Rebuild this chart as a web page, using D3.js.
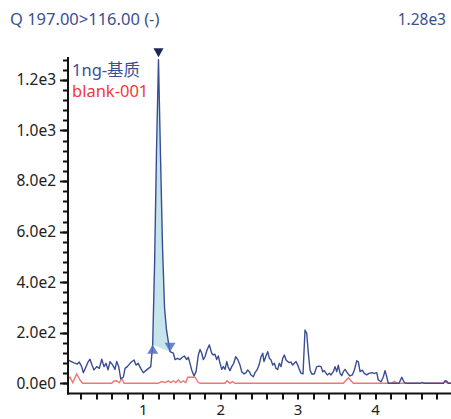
<!DOCTYPE html>
<html>
<head>
<meta charset="utf-8">
<script src="https://cdn.jsdelivr.net/npm/d3@7"></script>
<style>
body{margin:0;background:#fff;}
svg text{font-family:"Noto Sans","Noto Sans CJK SC",sans-serif;}
</style>
</head>
<body>
<div id="plot"></div>
<script>
// chromatogram: Q 197.00>116.00 (-)

var title = 'Q 197.00>116.00 (-)',
	maxLabel = '1.28e3',
	seriesNames = ['1ng-基质','blank-001'];

var yTicks = [0,200,400,600,800,1000,1200],
	yTickLabels = ['0.0e0','2.0e2','4.0e2','6.0e2','8.0e2','1.0e3','1.2e3'],
	xTicks = [1,2,3,4];

// 1ng-基质 trace
var sampleTime = [0.027,0.044,0.105,0.147,0.173,0.204,0.225,0.260,0.289,0.311,0.337,0.363,0.398,0.432,0.463,0.492,0.518,0.544,0.570,0.605,0.634,0.656,0.682,0.708,0.742,0.764,0.793,0.828,0.854,0.880,0.906,0.935,0.966,1.000,1.044,1.096,
	1.121,1.146,1.171,1.196,1.222,1.248,1.274,1.300,1.323,1.345,
	1.388,1.410,1.444,1.474,1.504,1.530,1.561,1.581,1.603,1.625,1.655,1.681,1.711,1.733,1.755,1.775,1.797,1.823,1.853,1.884,1.904,1.926,1.948,1.969,1.991,2.013,2.034,2.056,2.078,2.098,2.120,2.142,2.168,2.194,2.220,2.249,2.271,2.301,2.327,2.349,2.370,2.391,2.421,2.443,2.469,2.495,2.521,2.543,2.559,2.581,2.607,2.628,2.650,2.672,2.693,2.714,2.736,2.757,2.779,2.801,2.822,2.844,2.866,2.886,2.908,2.930,2.951,2.973,2.995,3.016,3.037,3.063,3.089,3.111,3.132,3.154,3.176,3.209,3.240,3.270,3.296,3.318,3.338,3.360,3.377,3.403,3.425,3.455,3.477,3.499,3.519,3.541,3.563,3.584,3.606,3.641,3.670,3.700,3.726,3.757,3.778,3.800,3.829,3.855,3.886,3.916,3.951,3.984,4.016,4.036,4.071,4.101,4.123,4.145,4.165,4.304,4.339,4.368,4.390,4.575,4.605,4.633,4.876,4.898,4.920,4.941,4.975];
var sampleValue = [92,90,81,76,84,66,42,66,86,95,72,53,66,59,95,66,79,53,86,72,55,86,66,18,24,59,66,79,86,92,72,79,59,42,53,66,
	152,480,930,1280,900,540,300,210,165,125,
	119,94,99,94,103,108,94,103,79,53,29,46,112,134,119,94,105,132,152,119,112,115,94,108,79,55,66,55,86,63,50,66,79,105,94,72,46,37,42,53,46,33,26,42,53,72,105,119,86,105,125,99,92,72,79,59,55,79,66,99,112,92,86,82,84,72,79,86,72,55,40,37,211,198,119,53,37,37,66,68,66,46,50,40,33,40,33,46,66,46,72,40,30,46,55,39,29,33,52,89,85,46,52,39,33,39,42,39,42,13,6,26,50,26,0,0,24,5,0,0,3,0,0,10,8,0,0];

// blank-001 trace
var blankTime = [0.031,0.053,0.088,0.140,0.182,0.217,0.592,0.621,0.656,0.690,0.721,0.751,1.190,1.238,1.280,1.323,1.358,1.388,1.419,1.452,1.483,1.517,1.548,1.574,1.625,1.668,1.711,1.733,2.056,2.081,2.120,2.150,2.185,3.584,3.649,3.713,4.209,4.243,4.279,4.575,4.605,4.633,4.876,4.898,4.937,4.975];
var blankValue = [18,24,3,37,13,0,0,9,10,2,20,0,0,7,3,10,3,10,3,13,3,10,3,24,24,24,3,0,0,10,0,7,0,0,22,0,0,8,0,0,3,0,0,6,0,0];

// integrated peak (first and last index in the sample trace)
var peakStart = 36, peakEnd = 45, peakApex = 39;

var W = 451, H = 419;
var svg = d3.select('#plot').append('svg')
	.attr('width',W).attr('height',H);

var x = d3.scaleLinear().domain([0.027,4.975]).range([68,451]);
var y = d3.scaleLinear().domain([0,1280]).range([383.3,59.7]);

var axisY = 393.5, axisX = 68;

svg.append('defs').append('clipPath').attr('id','clip')
	.append('rect').attr('x',axisX).attr('y',0).attr('width',W-axisX).attr('height',axisY-1);

var sample = sampleTime.map(function(t,i){return {t:t,v:sampleValue[i]};});
var blank = blankTime.map(function(t,i){return {t:t,v:blankValue[i]};});

var line = d3.line().x(function(d){return x(d.t)}).y(function(d){return y(d.v)});

var g = svg.append('g').attr('clip-path','url(#clip)');

// peak fill
var peak = sample.slice(peakStart,peakEnd+1);
g.append('path')
	.attr('d',line(peak)+'Z')
	.attr('fill','#c6e4ec')
	.attr('stroke','none');

g.append('path')
	.datum(blank)
	.attr('d',line)
	.attr('fill','none')
	.attr('stroke','#f27474')
	.attr('stroke-width',1.4);

g.append('path')
	.datum(sample)
	.attr('d',line)
	.attr('fill','none')
	.attr('stroke','#3a4d94')
	.attr('stroke-width',1.4)
	.attr('stroke-linejoin','round');

// peak markers
var s = sample[peakStart], e = sample[peakEnd], a = sample[peakApex];
svg.append('path')
	.attr('d','M0,0 L-5.5,9 L5.5,9 Z')
	.attr('transform','translate('+x(s.t)+','+y(s.v)+')')
	.attr('fill','#4f6fc4').attr('fill-opacity',0.85);
svg.append('path')
	.attr('d','M0,0 L-5.5,-9 L5.5,-9 Z')
	.attr('transform','translate('+x(e.t)+','+y(e.v)+')')
	.attr('fill','#4f6fc4').attr('fill-opacity',0.85);
svg.append('path')
	.attr('d','M0,0 L-5,-9 L5,-9 Z')
	.attr('transform','translate('+x(a.t)+','+(y(a.v)-2.5)+')')
	.attr('fill','#1f2757');

// axes
var yAxis = svg.append('g').attr('transform','translate('+axisX+',0)');
yAxis.append('line').attr('x1',0).attr('x2',0).attr('y1',57).attr('y2',axisY+1)
	.attr('stroke','#111').attr('stroke-width',2);
yAxis.selectAll('.ymin').data(d3.range(0,1281,40)).enter().append('line')
	.attr('x1',-5).attr('x2',0)
	.attr('y1',function(d){return Math.round(y(d))+0.5}).attr('y2',function(d){return Math.round(y(d))+0.5})
	.attr('stroke','#111').attr('stroke-width',2);
yAxis.selectAll('.ymaj').data(yTicks).enter().append('line')
	.attr('x1',-8).attr('x2',0)
	.attr('y1',function(d){return Math.round(y(d))+0.5}).attr('y2',function(d){return Math.round(y(d))+0.5})
	.attr('stroke','#111').attr('stroke-width',2);
yAxis.selectAll('.ylab').data(yTicks).enter().append('text')
	.attr('x',-12).attr('y',function(d){return y(d)})
	.attr('dy','0.35em')
	.attr('text-anchor','end')
	.attr('font-size','15.5px').attr('fill','#222')
	.text(function(d,i){return yTickLabels[i]});

var xAxis = svg.append('g').attr('transform','translate(0,'+axisY+')');
xAxis.append('line').attr('x1',axisX-1).attr('x2',W).attr('y1',0).attr('y2',0)
	.attr('stroke','#111').attr('stroke-width',2);
xAxis.selectAll('.xmin').data(d3.range(0.2,4.99,0.2)).enter().append('line')
	.attr('x1',function(d){return Math.round(x(d))}).attr('x2',function(d){return Math.round(x(d))})
	.attr('y1',0).attr('y2',6)
	.attr('stroke','#111').attr('stroke-width',2);
xAxis.selectAll('.xlab').data(xTicks).enter().append('text')
	.attr('x',function(d){return x(d)}).attr('y',21)
	.attr('text-anchor','middle')
	.attr('font-size','15px').attr('fill','#222')
	.text(function(d){return d});

// header + legend
svg.append('text').attr('x',10).attr('y',25)
	.attr('font-size','16.5px').attr('fill','#3a4f92').text(title);
svg.append('text').attr('x',446).attr('y',25).attr('text-anchor','end')
	.attr('font-size','15.5px').attr('fill','#3a4f92').text(maxLabel);

svg.append('text').attr('x',72).attr('y',76)
	.attr('font-size','16.5px').attr('fill','#3a4f92').text(seriesNames[0]);
svg.append('text').attr('x',72).attr('y',97)
	.attr('font-size','16.5px').attr('fill','#f03a3a').text(seriesNames[1]);
</script>
</body>
</html>
